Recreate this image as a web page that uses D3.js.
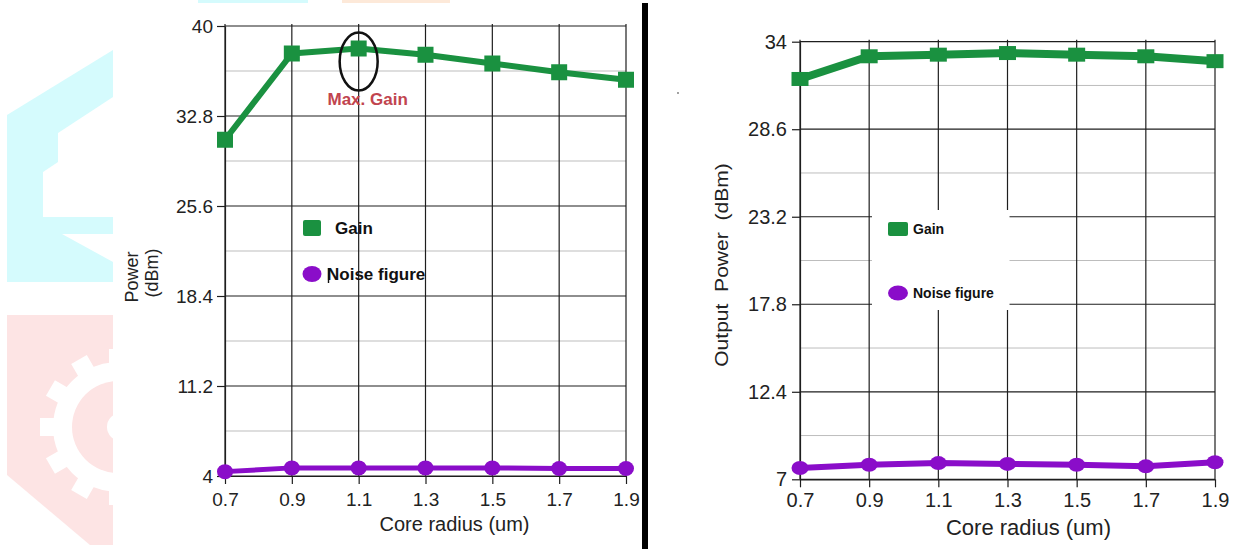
<!DOCTYPE html>
<html>
<head>
<meta charset="utf-8">
<script src="https://cdn.jsdelivr.net/npm/d3@7"></script>
<style>
  html, body { margin: 0; padding: 0; background: #fff; }
  svg { display: block; }
  text { font-family: "Liberation Sans", Arial, sans-serif; }
</style>
</head>
<body>
<svg id="chart" width="1237" height="549"></svg>
<script>
// Core radius sweep (um)
const radius = [0.7, 0.9, 1.1, 1.3, 1.5, 1.7, 1.9];

// Panel A: power vs core radius
const gainA = [30.9, 37.8, 38.2, 37.7, 37.0, 36.3, 35.7];
const noiseA = [4.35, 4.65, 4.65, 4.65, 4.65, 4.6, 4.6];
const yTicksA = [4, 11.2, 18.4, 25.6, 32.8, 40];

// Panel B: output power vs core radius
const gainB = [31.7, 33.1, 33.2, 33.3, 33.2, 33.1, 32.8];
const noiseB = [7.7, 7.9, 8.0, 7.95, 7.9, 7.8, 8.05];
const yTicksB = [7, 12.4, 17.8, 23.2, 28.6, 34];

const seriesNames = ["Gain", "Noise figure"];
const xTitle = "Core radius (um)";
const peakLabel = "Max. Gain";

const GREEN = "#1a9140";
const PURPLE = "#8a0dc9";

const svg = d3.select("#chart");

// ---- faint logo artwork along the left edge and top ----
const defs = svg.append("defs");
defs.append("clipPath").attr("id", "logoClip")
  .append("rect").attr("x", 0).attr("y", 0).attr("width", 113).attr("height", 549);

const logo = svg.append("g").attr("clip-path", "url(#logoClip)");
logo.append("path")
  .attr("d", "M7,115 L113,50 L113,282 L7,282 Z")
  .attr("fill", "#d5fbfd");
logo.append("path")
  .attr("d", "M58,133 L113,97 L113,217 L43,217 L43,172 L58,162 Z")
  .attr("fill", "#fff");
logo.append("path")
  .attr("d", "M62,234 L113,234 L113,262 Z")
  .attr("fill", "#fff");

logo.append("path")
  .attr("d", "M7,315 L113,315 L113,545 L90,545 L7,475 Z")
  .attr("fill", "#fde4e4");
const gear = logo.append("g").attr("transform", "translate(118,427)");
d3.range(12).forEach(i => {
  gear.append("rect")
    .attr("x", 58).attr("y", -9).attr("width", 20).attr("height", 18)
    .attr("fill", "#fff")
    .attr("transform", `rotate(${i * 30})`);
});
gear.append("circle").attr("r", 65).attr("fill", "#fff");
gear.append("circle").attr("r", 46).attr("fill", "#fde4e4");
gear.append("circle").attr("cx", 3).attr("r", 14).attr("fill", "#fff");

svg.append("rect").attr("x", 198).attr("y", 0).attr("width", 110).attr("height", 3).attr("fill", "#d5fbfd");
svg.append("rect").attr("x", 342).attr("y", 0).attr("width", 108).attr("height", 3).attr("fill", "#fde9d9");

// divider between the two panels
svg.append("rect").attr("x", 642).attr("y", 3).attr("width", 6).attr("height", 546).attr("fill", "#000");
svg.append("circle").attr("cx", 678).attr("cy", 93).attr("r", 0.9).attr("fill", "#777");

// ---- panel drawing ----
function drawPanel(p) {
  const x = d3.scaleLinear().domain([0.7, 1.9]).range(p.xRange);
  const y = d3.scaleLinear().domain([p.yTicks[0], p.yTicks[p.yTicks.length - 1]]).range(p.yRange);
  const g = svg.append("g");
  const [x0, x1] = p.xRange;
  const [yb, yt] = p.yRange;

  // minor horizontal grid
  const minor = d3.pairs(p.yTicks).map(([a, b]) => (a + b) / 2);
  g.selectAll(".minor").data(minor).join("line")
    .attr("x1", x0).attr("x2", x1)
    .attr("y1", d => y(d)).attr("y2", d => y(d))
    .attr("stroke", "#bdbdbd").attr("stroke-width", 1);
  // major horizontal grid
  g.selectAll(".major").data(p.yTicks).join("line")
    .attr("x1", x0).attr("x2", x1)
    .attr("y1", d => y(d)).attr("y2", d => y(d))
    .attr("stroke", "#1e1e1e").attr("stroke-width", 1.2);
  // vertical grid
  g.selectAll(".vgrid").data(radius).join("line")
    .attr("x1", d => x(d)).attr("x2", d => x(d))
    .attr("y1", yt - 2).attr("y2", yb)
    .attr("stroke", "#1e1e1e").attr("stroke-width", 1.2);

  // axes
  const ay = g.append("g").attr("transform", `translate(${x0},0)`)
    .call(d3.axisLeft(y).tickValues(p.yTicks).tickFormat(d => String(d))
      .tickSize(8).tickSizeOuter(0).tickPadding(p.yPad));
  const ax = g.append("g").attr("transform", `translate(0,${yb})`)
    .call(d3.axisBottom(x).tickValues(radius).tickFormat(d3.format(".1f"))
      .tickSize(8).tickSizeOuter(0).tickPadding(p.xPad));
  [ay, ax].forEach(a => {
    a.select(".domain").attr("stroke", "#1e1e1e").attr("stroke-width", 1.2);
    a.selectAll(".tick line").attr("stroke", "#1e1e1e").attr("stroke-width", 1.2);
    a.selectAll("text").attr("fill", "#222").style("font-size", p.tickFont + "px")
      .style("font-family", "'Liberation Sans', Arial, sans-serif");
  });

  if (p.legendBox) {
    g.append("rect")
      .attr("x", p.legendBox[0]).attr("y", p.legendBox[1])
      .attr("width", p.legendBox[2]).attr("height", p.legendBox[3])
      .attr("fill", "#fff");
  }

  // series lines
  const line = vals => d3.line().x((d, i) => x(radius[i])).y(d => y(d))(vals);
  g.append("path").attr("d", line(p.gain))
    .attr("fill", "none").attr("stroke", GREEN).attr("stroke-width", p.gainWidth)
    .attr("stroke-linejoin", "round");
  g.append("path").attr("d", line(p.noise))
    .attr("fill", "none").attr("stroke", PURPLE).attr("stroke-width", p.noiseWidth)
    .attr("stroke-linejoin", "round");

  g.selectAll(".gm").data(p.gain).join("rect")
    .attr("x", (d, i) => x(radius[i]) - p.sq[0] / 2)
    .attr("y", d => y(d) - p.sq[1] / 2)
    .attr("width", p.sq[0]).attr("height", p.sq[1])
    .attr("fill", GREEN);
  g.selectAll(".nm").data(p.noise).join("ellipse")
    .attr("cx", (d, i) => x(radius[i]))
    .attr("cy", d => y(d))
    .attr("rx", p.dot[0]).attr("ry", p.dot[1])
    .attr("fill", PURPLE);

  // legend
  const L = p.legend;
  g.append("rect")
    .attr("x", L.gx - L.gw / 2).attr("y", L.gy - L.gh / 2)
    .attr("width", L.gw).attr("height", L.gh).attr("rx", 2)
    .attr("fill", GREEN);
  g.append("text").attr("x", L.gtx).attr("y", L.gy).attr("dy", "0.35em")
    .style("font-size", L.font + "px").style("font-weight", "bold").attr("fill", "#111")
    .text(seriesNames[0]);
  g.append("ellipse")
    .attr("cx", L.gx).attr("cy", L.ny).attr("rx", L.nrx).attr("ry", L.nry)
    .attr("fill", PURPLE);
  g.append("text").attr("x", L.ntx).attr("y", L.ny).attr("dy", "0.35em")
    .style("font-size", L.font + "px").style("font-weight", "bold").attr("fill", "#111")
    .text(seriesNames[1]);

  // x title
  g.append("text")
    .attr("x", (x0 + x1) / 2 + p.xTitleShift).attr("y", p.xTitleY)
    .attr("text-anchor", "middle").attr("fill", "#222")
    .style("font-size", p.xTitleFont + "px")
    .text(xTitle);

  return { g, x, y };
}

// Panel A
const A = drawPanel({
  xRange: [225, 626], yRange: [476, 26], yTicks: yTicksA,
  gain: gainA, noise: noiseA,
  yPad: 4, xPad: 9, tickFont: 19,
  gainWidth: 6, noiseWidth: 5, sq: [16, 16], dot: [8, 7.5],
  legend: { gx: 312, gy: 228, gw: 18, gh: 16, gtx: 335, ny: 274, nrx: 9.5, nry: 8, ntx: 327, font: 17 },
  xTitleShift: 29, xTitleY: 531, xTitleFont: 20
});

// cursor mark beside the noise-figure legend entry
A.g.append("line").attr("x1", 328.5).attr("x2", 328.5).attr("y1", 268).attr("y2", 283)
  .attr("stroke", "#111").attr("stroke-width", 1.4);

// peak gain annotation
const peakIdx = gainA.indexOf(d3.max(gainA));
A.g.append("ellipse")
  .attr("cx", A.x(radius[peakIdx])).attr("cy", A.y(gainA[peakIdx]) + 13)
  .attr("rx", 19).attr("ry", 29)
  .attr("fill", "none").attr("stroke", "#111").attr("stroke-width", 2.5);
A.g.append("text")
  .attr("x", A.x(radius[peakIdx]) + 9).attr("y", 105)
  .attr("text-anchor", "middle").attr("fill", "#c1444e")
  .style("font-size", "17px").style("font-weight", "bold")
  .text(peakLabel);

// y title, panel A (two rotated lines)
A.g.append("text")
  .attr("transform", "translate(138,277) rotate(-90)")
  .attr("text-anchor", "middle").attr("fill", "#222").style("font-size", "18px")
  .text("Power");
A.g.append("text")
  .attr("transform", "translate(158,273) rotate(-90)")
  .attr("text-anchor", "middle").attr("fill", "#222").style("font-size", "18px")
  .text("(dBm)");

// Panel B
const B = drawPanel({
  xRange: [800, 1215], yRange: [479.3, 41.7], yTicks: yTicksB,
  gain: gainB, noise: noiseB,
  yPad: 5, xPad: 6, tickFont: 20,
  gainWidth: 8, noiseWidth: 6, sq: [17, 14], dot: [8.5, 7],
  legendBox: [872, 210, 137.5, 100],
  legend: { gx: 898, gy: 229, gw: 20, gh: 14, gtx: 913, ny: 293, nrx: 10, nry: 7.5, ntx: 913, font: 14 },
  xTitleShift: 21, xTitleY: 535, xTitleFont: 22
});

// y title, panel B
B.g.append("text")
  .attr("transform", "translate(728,265) rotate(-90) scale(1.17,1)")
  .attr("text-anchor", "middle").attr("fill", "#222").style("font-size", "18px")
  .attr("xml:space", "preserve").style("white-space", "pre")
  .text("Output  Power  (dBm)");
</script>
</body>
</html>
